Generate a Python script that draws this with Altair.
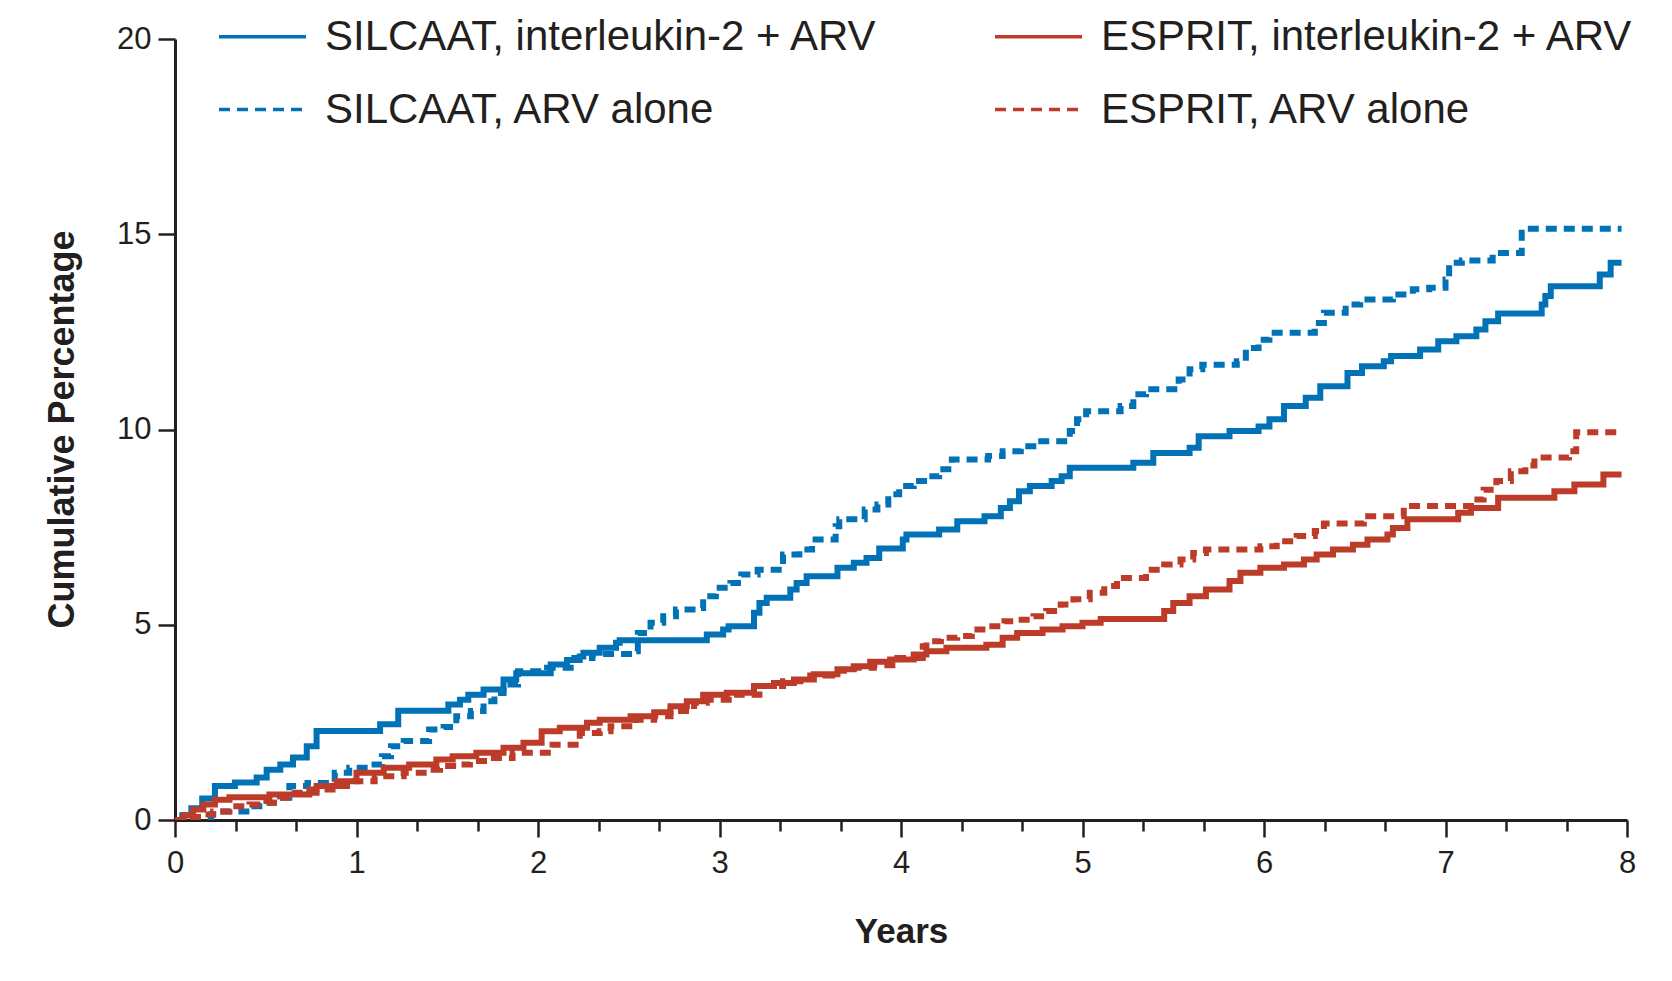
import altair as alt
import pandas as pd

# Cumulative incidence (%) step curves, read as (years, percent) pairs
silcaat_il2_t = [0, 0.04, 0.09, 0.15, 0.22, 0.33, 0.45, 0.505, 0.58, 0.65, 0.726, 0.78, 1.13, 1.23,
                 1.506, 1.57, 1.616, 1.70, 1.81, 1.88, 2.07, 2.16, 2.23, 2.25, 2.34, 2.43, 2.45, 2.93,
                 3.02, 3.05, 3.19, 3.22, 3.26, 3.39, 3.425, 3.48, 3.65, 3.74, 3.81, 3.88, 4.01, 4.03,
                 4.21, 4.31, 4.46, 4.55, 4.60, 4.65, 4.71, 4.83, 4.885, 4.93, 5.28, 5.39, 5.59, 5.64,
                 5.81, 5.97, 6.03, 6.11, 6.23, 6.31, 6.46, 6.54, 6.66, 6.70, 6.86, 6.96, 7.06, 7.17,
                 7.22, 7.29, 7.53, 7.55, 7.58, 7.85, 7.91, 7.97]
silcaat_il2_v = [0, 0.12, 0.30, 0.55, 0.87, 0.96, 1.09, 1.29, 1.42, 1.60, 1.89, 2.28, 2.45, 2.80,
                 2.96, 3.08, 3.21, 3.34, 3.60, 3.76, 3.98, 4.10, 4.19, 4.28, 4.41, 4.54, 4.60, 4.75,
                 4.88, 4.96, 5.31, 5.56, 5.69, 5.90, 6.07, 6.24, 6.46, 6.59, 6.71, 6.95, 7.18, 7.31,
                 7.44, 7.65, 7.78, 7.99, 8.16, 8.42, 8.55, 8.68, 8.80, 9.02, 9.15, 9.40, 9.53, 9.83,
                 9.96, 10.08, 10.26, 10.60, 10.81, 11.11, 11.45, 11.62, 11.75, 11.88, 12.05, 12.26, 12.39, 12.56,
                 12.77, 12.97, 13.20, 13.42, 13.67, 13.97, 14.27, 14.27]

silcaat_arv_t = [0, 0.10, 0.20, 0.25, 0.41, 0.505, 0.58, 0.63, 0.73, 0.88, 0.96, 1.065, 1.14, 1.19,
                 1.26, 1.40, 1.48, 1.55, 1.63, 1.70, 1.76, 1.81, 1.89, 2.05, 2.20, 2.30, 2.53, 2.55,
                 2.62, 2.69, 2.76, 2.87, 2.91, 2.98, 3.06, 3.12, 3.21, 3.35, 3.44, 3.51, 3.64, 3.66,
                 3.80, 3.87, 3.93, 3.99, 4.07, 4.15, 4.21, 4.28, 4.48, 4.56, 4.66, 4.75, 4.93, 4.97,
                 5.02, 5.21, 5.28, 5.35, 5.53, 5.59, 5.66, 5.85, 5.90, 5.97, 6.03, 6.28, 6.33, 6.45,
                 6.53, 6.71, 6.82, 6.91, 7.00, 7.02, 7.09, 7.26, 7.42, 7.47, 7.97]
silcaat_arv_v = [0, 0.08, 0.15, 0.22, 0.35, 0.44, 0.57, 0.87, 0.95, 1.21, 1.34, 1.42, 1.63, 1.89,
                 2.02, 2.32, 2.38, 2.66, 2.79, 3.04, 3.25, 3.47, 3.81, 3.90, 4.15, 4.25, 4.32, 4.79,
                 5.05, 5.22, 5.39, 5.43, 5.73, 5.95, 6.07, 6.29, 6.41, 6.80, 6.93, 7.18, 7.52, 7.70,
                 7.95, 8.08, 8.34, 8.55, 8.68, 8.80, 8.98, 9.23, 9.32, 9.44, 9.57, 9.70, 9.96, 10.26,
                 10.47, 10.60, 10.90, 11.03, 11.28, 11.54, 11.66, 11.75, 12.09, 12.30, 12.48, 12.73, 12.99, 13.20,
                 13.33, 13.46, 13.59, 13.63, 13.84, 14.27, 14.33, 14.52, 15.04, 15.14, 15.14]

esprit_il2_t = [0, 0.05, 0.10, 0.156, 0.22, 0.30, 0.52, 0.74, 0.78, 0.89, 1.00, 1.15, 1.29, 1.44,
                1.53, 1.66, 1.81, 1.92, 2.02, 2.12, 2.27, 2.34, 2.51, 2.64, 2.73, 2.82, 2.91, 3.04,
                3.19, 3.30, 3.41, 3.52, 3.65, 3.74, 3.83, 3.94, 4.07, 4.14, 4.25, 4.47, 4.56, 4.64,
                4.78, 4.89, 5.00, 5.10, 5.45, 5.50, 5.59, 5.68, 5.81, 5.87, 5.98, 6.11, 6.22, 6.29,
                6.38, 6.49, 6.57, 6.68, 6.71, 6.79, 7.07, 7.14, 7.29, 7.60, 7.71, 7.87, 7.97]
esprit_il2_v = [0, 0.12, 0.27, 0.40, 0.52, 0.58, 0.65, 0.78, 0.87, 0.99, 1.21, 1.34, 1.42, 1.55,
                1.63, 1.72, 1.85, 1.98, 2.27, 2.36, 2.49, 2.57, 2.66, 2.76, 2.91, 3.04, 3.21, 3.26,
                3.43, 3.51, 3.60, 3.73, 3.86, 3.94, 4.05, 4.11, 4.24, 4.32, 4.41, 4.49, 4.67, 4.79,
                4.88, 4.96, 5.05, 5.15, 5.35, 5.56, 5.73, 5.90, 6.12, 6.33, 6.46, 6.54, 6.67, 6.80,
                6.93, 7.05, 7.18, 7.31, 7.48, 7.70, 7.87, 7.99, 8.25, 8.42, 8.59, 8.85, 8.85]

esprit_arv_t = [0, 0.10, 0.15, 0.21, 0.30, 0.41, 0.505, 0.58, 0.66, 0.78, 0.89, 0.99, 1.10, 1.26,
                1.37, 1.46, 1.55, 1.625, 1.74, 1.86, 2.08, 2.23, 2.34, 2.40, 2.54, 2.64, 2.73, 2.86,
                2.93, 3.08, 3.22, 3.35, 3.50, 3.62, 3.74, 3.85, 3.98, 4.12, 4.14, 4.22, 4.31, 4.39,
                4.47, 4.57, 4.64, 4.73, 4.80, 4.88, 4.95, 5.04, 5.12, 5.19, 5.35, 5.45, 5.54, 5.61,
                5.68, 5.98, 6.07, 6.18, 6.28, 6.33, 6.55, 6.77, 7.14, 7.21, 7.28, 7.36, 7.44, 7.49,
                7.68, 7.72, 7.97]
esprit_arv_v = [0, 0.08, 0.14, 0.22, 0.35, 0.40, 0.44, 0.57, 0.70, 0.78, 0.87, 0.99, 1.12, 1.21,
                1.29, 1.38, 1.42, 1.51, 1.59, 1.72, 1.93, 2.23, 2.27, 2.40, 2.57, 2.66, 2.79, 3.00,
                3.08, 3.21, 3.43, 3.55, 3.70, 3.82, 3.90, 3.96, 4.15, 4.45, 4.58, 4.67, 4.71, 4.88,
                4.96, 5.09, 5.13, 5.22, 5.35, 5.52, 5.65, 5.82, 5.99, 6.20, 6.41, 6.54, 6.67, 6.84,
                6.93, 7.01, 7.14, 7.27, 7.40, 7.59, 7.78, 8.04, 8.21, 8.46, 8.68, 8.93, 9.08, 9.28,
                9.44, 9.93, 9.93]

# Legend fills column by column: SILCAAT entries on the left, ESPRIT on the right
series_names = [
    "SILCAAT, interleukin-2 + ARV",
    "SILCAAT, ARV alone",
    "ESPRIT, interleukin-2 + ARV",
    "ESPRIT, ARV alone",
]
series_colors = ["#0072B5", "#0072B5", "#BC3C29", "#BC3C29"]
series_dashes = [[1, 0], [11, 7], [1, 0], [11, 7]]

x_ticks = [k / 3 for k in range(25)]
y_ticks = [0, 5, 10, 15, 20]

curves = {
    "SILCAAT, interleukin-2 + ARV": (silcaat_il2_t, silcaat_il2_v),
    "SILCAAT, ARV alone": (silcaat_arv_t, silcaat_arv_v),
    "ESPRIT, interleukin-2 + ARV": (esprit_il2_t, esprit_il2_v),
    "ESPRIT, ARV alone": (esprit_arv_t, esprit_arv_v),
}

rows = []
for name, (ts, vs) in curves.items():
    for i, (t, v) in enumerate(zip(ts, vs)):
        rows.append({"series": name, "years": t, "pct": v, "order": i})
df = pd.DataFrame(rows)

INK = "#231F20"
is_major = "abs(datum.value - round(datum.value)) < 0.01"

legend = alt.Legend(
    title=None,
    orient="none",
    legendX=42,
    legendY=-48,
    columns=2,
    columnPadding=110,
    rowPadding=6,
    symbolType="stroke",
    symbolSize=7569,
    symbolStrokeWidth=3.5,
    labelFontSize=42,
    labelOffset=17,
    labelFont="Liberation Sans",
    labelColor=INK,
    labelLimit=0,
    padding=0,
)

chart = (
    alt.Chart(df)
    .mark_line(interpolate="step-after", strokeWidth=6, strokeCap="butt", clip=True)
    .encode(
        x=alt.X(
            "years:Q",
            scale=alt.Scale(domain=[0, 8], nice=False, zero=False),
            axis=alt.Axis(
                values=x_ticks,
                title="Years",
                labelExpr=f"{is_major} ? format(datum.value, 'd') : ''",
                tickSize={"condition": {"test": is_major, "value": 17}, "value": 11},
                labelPadding=11,
                titleY=122,
                titleBaseline="alphabetic",
                titleFontSize=35,
            ),
        ),
        y=alt.Y(
            "pct:Q",
            scale=alt.Scale(domain=[0, 20], nice=False),
            axis=alt.Axis(
                values=y_ticks,
                title="Cumulative Percentage",
                tickSize=17,
                labelPadding=7,
                titleX=-102,
                titleY=390,
                titleBaseline="alphabetic",
                titleFontSize=36,
            ),
        ),
        color=alt.Color(
            "series:N",
            scale=alt.Scale(domain=series_names, range=series_colors),
            legend=legend,
        ),
        strokeDash=alt.StrokeDash(
            "series:N",
            scale=alt.Scale(domain=series_names, range=series_dashes),
            legend=legend,
        ),
        order="order:Q",
    )
    .properties(
        width=1452,
        height=781,
        autosize=alt.AutoSizeParams(type="none"),
        padding={"left": 175, "top": 39, "right": 45, "bottom": 161},
        background="white",
    )
    .configure_view(stroke=None)
    .configure_axis(
        grid=False,
        domainColor=INK,
        domainWidth=3,
        tickColor=INK,
        tickWidth=2.5,
        labelColor=INK,
        labelFont="Liberation Sans",
        labelFontSize=31,
        labelFlush=False,
        labelOverlap=False,
        titleColor=INK,
        titleFont="Liberation Sans",
        titleFontWeight="bold",
    )
)

chart.save("out.html", embed_options={"renderer": "svg", "actions": False})
